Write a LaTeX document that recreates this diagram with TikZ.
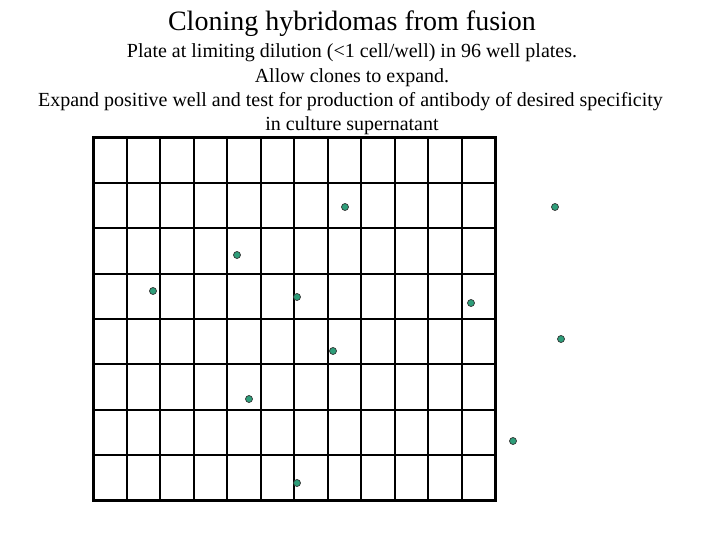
\documentclass[tikz,border=0pt]{standalone}
\usepackage{fontspec}
\setmainfont{Liberation Serif}
\definecolor{cellfill}{HTML}{2E9E7A}
\begin{document}
\begin{tikzpicture}[x=1pt,y=-1pt,
  txt/.style={inner sep=0pt, font=\fontsize{20}{22}\selectfont},
  cell/.style={circle, fill=cellfill, draw=black!80, line width=0.7pt, minimum size=7pt, inner sep=0pt}]
\useasboundingbox (0,0) rectangle (720,540);
\node[inner sep=0pt, font=\fontsize{28}{30}\selectfont] (title) at (352,24) {Cloning hybridomas from fusion};
\node[txt] (l1) at (352,53) {Plate at limiting dilution (<1 cell/well) in 96 well plates.};
\node[txt] (l2) at (352,78) {Allow clones to expand.};
\node[txt] (l3) at (350.5,102) {Expand positive well and test for production of antibody of desired specificity};
\node[txt] (l4) at (352,126) {in culture supernatant};
% grid
\foreach \i in {1,...,11} \draw[line width=2pt] ({93+\i*33.5},138) -- ({93+\i*33.5},500);
\foreach \j in {1,...,7} \draw[line width=2pt] (93,{138+\j*45.25}) -- (495,{138+\j*45.25});
\draw[line width=3pt] (93,138) rectangle (495,500);
% cells
\foreach \p/\q [count=\k] in {345/207,555/207,237/255,153/291,297/297,471/303,561/339,333/351,249/399,513/441,297/483}
  \node[cell] (c\k) at (\p,\q) {};
\end{tikzpicture}
\end{document}
